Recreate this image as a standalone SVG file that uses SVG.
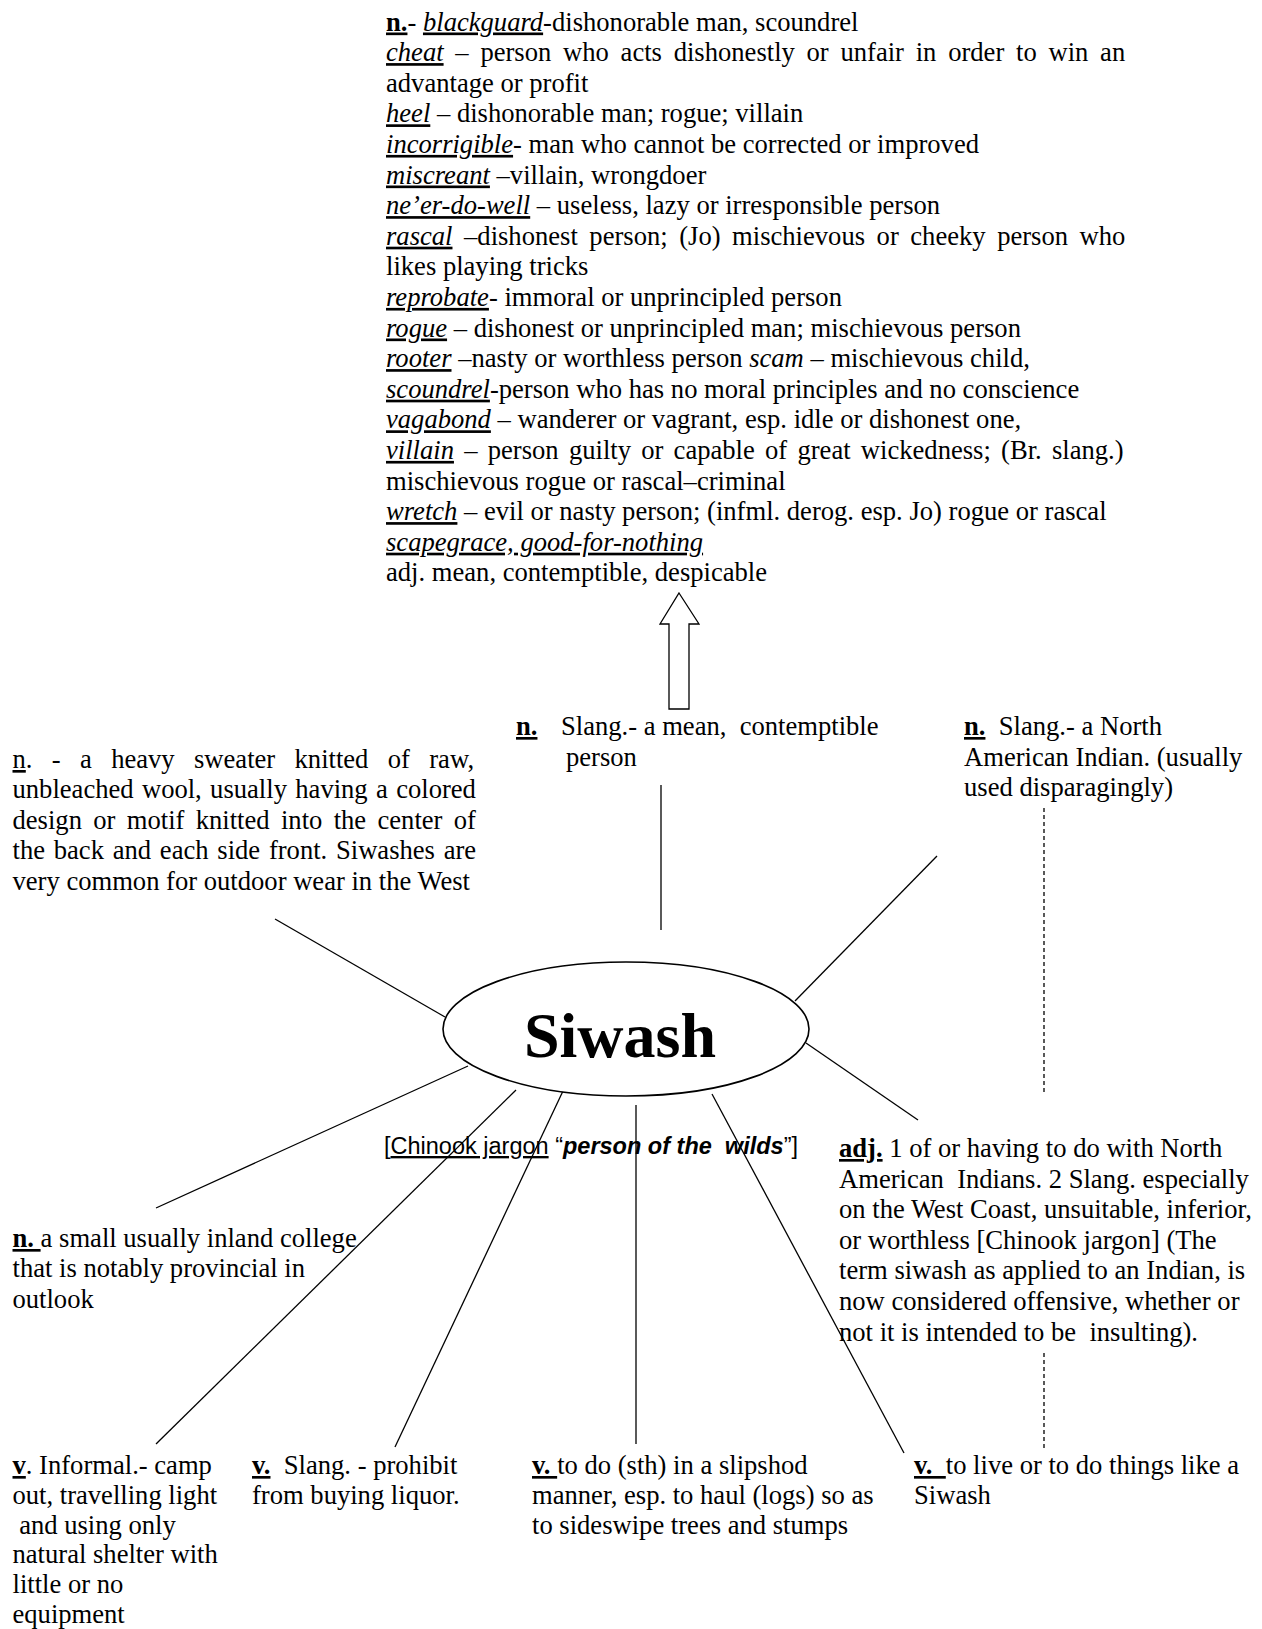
<svg xmlns="http://www.w3.org/2000/svg" width="1262" height="1629" viewBox="0 0 1262 1629">
<style>
.t{font-family:"Liberation Serif","Times New Roman",serif;font-size:26.6px;fill:#000}
.b{font-weight:bold}
.i{font-style:italic}
.u{text-decoration:underline}
.a{font-family:"Liberation Sans",Arial,sans-serif;font-size:23.5px;fill:#000}
.ln{stroke:#000;stroke-width:1.3;fill:none}
.dash{stroke-dasharray:4 3}
.big{font-family:"Liberation Serif","Times New Roman",serif;font-size:64px;font-weight:bold;fill:#000}
</style>
<rect width="1262" height="1629" fill="#fff"/>
<g id="connectors">
<line class="ln" x1="275" y1="919" x2="445" y2="1017"/>
<line class="ln" x1="661" y1="785" x2="661" y2="930"/>
<line class="ln" x1="937" y1="856" x2="795" y2="1001"/>
<line class="ln dash" x1="1044" y1="808" x2="1044" y2="1093"/>
<line class="ln" x1="806" y1="1043" x2="918" y2="1120"/>
<line class="ln dash" x1="1044" y1="1353" x2="1044" y2="1450"/>
<line class="ln" x1="156" y1="1208" x2="468" y2="1066"/>
<line class="ln" x1="156" y1="1444" x2="516" y2="1090"/>
<line class="ln" x1="395" y1="1447" x2="563" y2="1091"/>
<line class="ln" x1="636" y1="1105" x2="636" y2="1444"/>
<line class="ln" x1="712" y1="1094" x2="904" y2="1453"/>
<polygon class="ln" points="679,593 699,624 689,624 689,709 669,709 669,624 660,624"/>
</g>
<g id="siwash">
<ellipse cx="626" cy="1029" rx="183" ry="67" fill="#fff" stroke="#000" stroke-width="1.6"/>
<text class="big" x="620" y="1057" text-anchor="middle">Siwash</text>
</g>
<g id="etymology">
<text class="a" x="384" y="1154" xml:space="preserve">[<tspan class="u">Chinook jargon</tspan> “<tspan font-weight="bold" font-style="italic">person of the  wilds</tspan>”]</text>
</g>
<g id="synonyms">
<text class="t" x="386" y="30.5"><tspan class="b u">n.</tspan>- <tspan class="i u">blackguard</tspan>-dishonorable man, scoundrel</text>
<text class="t" x="386" y="61.1" word-spacing="5.1"><tspan class="i u">cheat</tspan> – person who acts dishonestly or unfair in order to win an</text>
<text class="t" x="386" y="91.7">advantage or profit</text>
<text class="t" x="386" y="122.3"><tspan class="i u">heel</tspan> – dishonorable man; rogue; villain</text>
<text class="t" x="386" y="152.9"><tspan class="i u">incorrigible</tspan>- man who cannot be corrected or improved</text>
<text class="t" x="386" y="183.5"><tspan class="i u">miscreant</tspan> –villain, wrongdoer</text>
<text class="t" x="386" y="214.1"><tspan class="i u">ne’er-do-well</tspan> – useless, lazy or irresponsible person</text>
<text class="t" x="386" y="244.7" word-spacing="4.9"><tspan class="i u">rascal</tspan> –dishonest person; (Jo) mischievous or cheeky person who</text>
<text class="t" x="386" y="275.3">likes playing tricks</text>
<text class="t" x="386" y="305.9"><tspan class="i u">reprobate</tspan>- immoral or unprincipled person</text>
<text class="t" x="386" y="336.5"><tspan class="i u">rogue</tspan> – dishonest or unprincipled man; mischievous person</text>
<text class="t" x="386" y="367.1"><tspan class="i u">rooter</tspan> –nasty or worthless person <tspan class="i">scam</tspan> – mischievous child,</text>
<text class="t" x="386" y="397.7"><tspan class="i u">scoundrel</tspan>-person who has no moral principles and no conscience</text>
<text class="t" x="386" y="428.3"><tspan class="i u">vagabond</tspan> – wanderer or vagrant, esp. idle or dishonest one<tspan class="i">,</tspan></text>
<text class="t" x="386" y="458.9" word-spacing="3.6"><tspan class="i u">villain</tspan> – person guilty or capable of great wickedness; (Br. slang.)</text>
<text class="t" x="386" y="489.5">mischievous rogue or rascal–criminal</text>
<text class="t" x="386" y="520.1"><tspan class="i u">wretch</tspan> – evil or nasty person; (infml. derog. esp. Jo) rogue or rascal</text>
<text class="t" x="386" y="550.7"><tspan class="i u">scapegrace, good-for-nothing</tspan></text>
<text class="t" x="386" y="581.3">adj. mean, contemptible, despicable</text>
</g>
<g id="sweater">
<text class="t" x="12.5" y="768" word-spacing="12.7"><tspan class="u">n</tspan>. - a heavy sweater knitted of raw,</text>
<text class="t" x="12.5" y="798.4" word-spacing="1.7">unbleached wool, usually having a colored</text>
<text class="t" x="12.5" y="828.8" word-spacing="4.7">design or motif knitted into the center of</text>
<text class="t" x="12.5" y="859.2" word-spacing="2.1">the back and each side front. Siwashes are</text>
<text class="t" x="12.5" y="889.6">very common for outdoor wear in the West</text>
</g>
<g id="mean-person">
<text class="t" x="516" y="735"><tspan class="b u">n.</tspan></text>
<text class="t" x="561" y="735" xml:space="preserve">Slang.- a mean,  contemptible</text>
<text class="t" x="566" y="765.6">person</text>
</g>
<g id="indian">
<text class="t" x="964" y="735" xml:space="preserve"><tspan class="b u">n.</tspan>  Slang.- a North</text>
<text class="t" x="964" y="765.6">American Indian. (usually</text>
<text class="t" x="964" y="796.2">used disparagingly)</text>
</g>
<g id="adjective">
<text class="t" x="839" y="1157"><tspan class="b u">adj.</tspan> 1 of or having to do with North</text>
<text class="t" x="839" y="1187.6" xml:space="preserve">American  Indians. 2 Slang. especially</text>
<text class="t" x="839" y="1218.2">on the West Coast, unsuitable, inferior,</text>
<text class="t" x="839" y="1248.8">or worthless [Chinook jargon] (The</text>
<text class="t" x="839" y="1279.4">term siwash as applied to an Indian, is</text>
<text class="t" x="839" y="1310">now considered offensive, whether or</text>
<text class="t" x="839" y="1340.6" xml:space="preserve">not it is intended to be  insulting).</text>
</g>
<g id="college">
<text class="t" x="12.5" y="1247" xml:space="preserve"><tspan class="b u">n. </tspan>a small usually inland college</text>
<text class="t" x="12.5" y="1277.4">that is notably provincial in</text>
<text class="t" x="12.5" y="1307.8">outlook</text>
</g>
<g id="camp">
<text class="t" x="12.5" y="1474"><tspan class="b u">v</tspan>. Informal.- camp</text>
<text class="t" x="12.5" y="1503.8">out, travelling light</text>
<text class="t" x="12.5" y="1533.6" xml:space="preserve"> and using only</text>
<text class="t" x="12.5" y="1563.4">natural shelter with</text>
<text class="t" x="12.5" y="1593.2">little or no</text>
<text class="t" x="12.5" y="1623">equipment</text>
</g>
<g id="liquor">
<text class="t" x="252" y="1474" xml:space="preserve"><tspan class="b u">v.</tspan>  Slang. - prohibit</text>
<text class="t" x="252" y="1504">from buying liquor.</text>
</g>
<g id="slipshod">
<text class="t" x="532" y="1474"><tspan class="b u">v. </tspan>to do (sth) in a slipshod</text>
<text class="t" x="532" y="1504">manner, esp. to haul (logs) so as</text>
<text class="t" x="532" y="1534">to sideswipe trees and stumps</text>
</g>
<g id="live">
<text class="t" x="914" y="1474" xml:space="preserve"><tspan class="b u">v.  </tspan>to live or to do things like a</text>
<text class="t" x="914" y="1504">Siwash</text>
</g>
</svg>
